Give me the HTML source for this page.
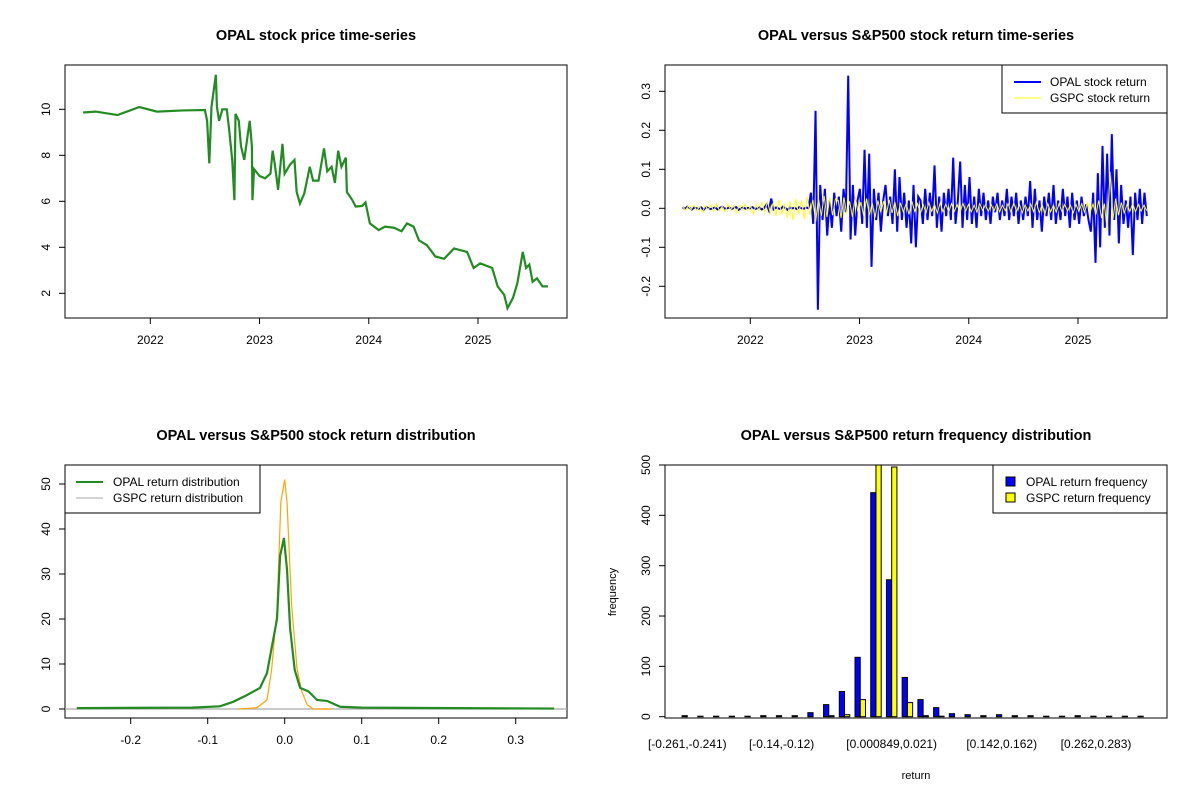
<!DOCTYPE html>
<html><head><meta charset="utf-8">
<style>
html,body{margin:0;padding:0;background:#fff;}
svg{display:block;font-family:"Liberation Sans",Arial,sans-serif;}
</style></head>
<body>
<svg id="c" width="1200" height="800" viewBox="0 0 1200 800"></svg>
<script>
// ---------- DATA ----------
const priceDates = [2021.385,2021.5,2021.7,2021.9,2022.06,2022.3,2022.5,2022.52,2022.54,2022.56,2022.6,2022.61,2022.63,2022.66,2022.7,2022.72,2022.75,2022.77,2022.78,2022.81,2022.83,2022.86,2022.91,2022.93,2022.935,2022.95,2023.0,2023.05,2023.1,2023.12,2023.14,2023.17,2023.21,2023.23,2023.28,2023.32,2023.34,2023.37,2023.41,2023.46,2023.49,2023.54,2023.59,2023.62,2023.66,2023.69,2023.72,2023.75,2023.79,2023.8,2023.85,2023.88,2023.94,2023.97,2024.01,2024.09,2024.15,2024.23,2024.3,2024.35,2024.41,2024.46,2024.53,2024.61,2024.69,2024.78,2024.9,2024.96,2025.02,2025.13,2025.18,2025.24,2025.27,2025.32,2025.36,2025.41,2025.44,2025.47,2025.5,2025.54,2025.59,2025.64];
const priceValues = [9.86,9.9,9.75,10.1,9.9,9.95,9.97,9.5,7.65,10.1,11.5,10.1,9.5,10.0,10.0,9.2,7.8,6.05,9.8,9.5,8.4,7.8,9.5,8.4,6.05,7.4,7.1,7.0,7.2,8.2,7.6,6.5,8.5,7.2,7.6,7.8,6.4,5.9,6.35,7.5,6.9,6.9,8.3,7.3,7.5,6.8,8.2,7.5,7.9,6.4,6.05,5.77,5.8,5.95,5.04,4.75,4.9,4.85,4.7,5.04,4.9,4.3,4.1,3.6,3.5,3.95,3.8,3.1,3.3,3.1,2.3,1.93,1.35,1.8,2.43,3.8,3.1,3.25,2.5,2.65,2.3,2.3];
const priceYTicks = [2,4,6,8,10];
const yearTicks = [2022,2023,2024,2025];

const opalReturns = [0.003,-0.002,0.004,0.001,-0.003,0.002,0.000,-0.001,0.002,-0.004,0.003,0.001,-0.002,0.000,0.002,-0.003,0.001,0.004,-0.001,0.000,0.002,-0.002,0.001,0.003,-0.004,0.000,0.002,-0.001,0.001,0.000,0.003,-0.002,0.000,0.002,-0.003,0.001,0.010,-0.005,0.025,-0.003,0.002,0.000,-0.002,0.004,0.001,-0.004,0.002,0.000,0.001,-0.002,0.003,0.000,-0.001,0.002,0.000,
0.04,-0.04,0.25,-0.26,0.06,-0.03,0.05,-0.07,0.02,-0.05,0.04,-0.02,0.03,-0.06,0.05,-0.01,0.34,-0.08,0.06,-0.07,0.02,0.05,-0.04,0.15,-0.05,0.14,-0.15,0.05,-0.03,0.04,-0.06,0.02,0.06,-0.02,0.03,-0.04,0.10,-0.06,0.08,-0.03,0.04,-0.05,0.02,-0.09,0.06,-0.10,0.03,0.02,-0.04,0.05,-0.03,0.04,-0.02,0.11,-0.05,0.03,-0.06,0.04,-0.02,0.05,-0.03,0.13,-0.04,0.02,0.12,-0.05,0.06,-0.03,0.08,-0.04,0.03,-0.05,0.05,-0.02,0.04,-0.03,0.02,-0.04,0.03,-0.01,0.04,-0.03,0.02,-0.02,0.05,-0.03,0.03,-0.02,0.04,-0.04,0.02,-0.03,0.03,-0.02,0.07,-0.05,0.05,-0.03,0.02,-0.06,0.03,-0.02,0.04,-0.03,0.06,-0.04,0.02,-0.03,0.05,-0.02,0.03,-0.05,0.04,-0.03,0.02,-0.04,0.03,-0.02,0.01,-0.03,-0.06,0.04,-0.14,0.09,-0.10,0.16,-0.05,0.14,-0.07,0.19,-0.03,0.10,-0.09,0.06,-0.04,0.02,-0.05,0.03,-0.12,0.04,-0.03,0.05,-0.04,0.04,-0.02];
const gspcReturns = [0.004,-0.005,0.006,-0.003,0.008,-0.006,0.005,-0.010,0.007,-0.004,0.009,-0.008,0.012,-0.006,0.005,-0.009,0.010,-0.004,0.006,-0.012,0.008,-0.005,0.011,-0.007,0.006,-0.014,0.010,-0.006,0.015,-0.010,0.018,-0.012,0.014,-0.020,0.022,-0.016,0.012,-0.024,0.018,-0.030,0.025,-0.015,0.020,-0.028,0.030,-0.018,0.022,-0.035,0.026,-0.020,0.032,-0.022,0.028,-0.018,0.024,
0.020,-0.025,0.028,-0.015,0.018,-0.022,0.030,-0.012,0.016,-0.020,0.025,-0.018,0.014,-0.024,0.020,-0.010,0.018,-0.015,0.022,-0.012,0.016,-0.020,0.014,-0.010,0.012,-0.016,0.018,-0.008,0.012,-0.014,0.010,-0.012,0.015,-0.008,0.010,-0.012,0.014,-0.009,0.011,-0.010,0.012,-0.008,0.009,-0.011,0.013,-0.007,0.010,-0.009,0.008,-0.010,0.012,-0.006,0.009,-0.008,0.010,-0.007,0.011,-0.009,0.008,-0.006,0.012,-0.010,0.014,-0.008,0.010,-0.012,0.009,-0.007,0.011,-0.009,0.016,-0.012,0.010,-0.015,0.012,-0.009,0.008,-0.010,0.012,-0.008,0.010,-0.007,0.009,-0.012,0.010,-0.008,0.012,-0.010,0.014,-0.009,0.011,-0.016,0.020,-0.025,0.012,-0.058,0.094,-0.030,0.025,-0.018,0.015,-0.012,0.010,-0.008,0.012,-0.009,0.010,-0.007,0.008,-0.006];
const returnYTicks = [-0.2,-0.1,0.0,0.1,0.2,0.3];

const densX = [-0.27,-0.12,-0.084,-0.067,-0.05,-0.032,-0.023,-0.01,-0.006,-0.001,0.003,0.007,0.013,0.02,0.031,0.042,0.055,0.072,0.1,0.35];
const opalDens = [0.2,0.3,0.6,1.6,3,4.7,8,20,34,38,31,18,8.7,4.7,3.9,2,1.8,0.5,0.3,0.1];
const gspcDensX = [-0.06,-0.036,-0.023,-0.017,-0.01,-0.005,0.0,0.003,0.009,0.016,0.022,0.029,0.037,0.06];
const gspcDens = [0,0.3,2,8.7,22,46,51,46,23,9,4,1,0,0];
const densXTicks = [-0.2,-0.1,0.0,0.1,0.2,0.3];
const densYTicks = [0,10,20,30,40,50];

const opalFreq = [2,1,1,1,1,2,2,2,8,24,50,118,445,272,78,34,18,6,4,2,4,2,2,1,1,2,1,1,1,1];
const gspcFreq = [0,0,0,0,0,0,0,0,0,2,4,34,560,496,28,2,1,0,0,0,0,0,0,0,0,0,0,0,0,0];
const binLabels = {0:"[-0.261,-0.241)",6:"[-0.14,-0.12)",13:"[0.000849,0.021)",20:"[0.142,0.162)",26:"[0.262,0.283)"};
const freqYTicks = [0,100,200,300,400,500];

// ---------- HELPERS ----------
const svg = document.getElementById('c');
const NS = 'http://www.w3.org/2000/svg';
function el(tag, attrs, parent){ const e=document.createElementNS(NS,tag); for(const k in attrs) e.setAttribute(k,attrs[k]); (parent||svg).appendChild(e); return e; }
function txt(x,y,s,opt){ const t=el('text',Object.assign({x:x,y:y,'font-size':12,fill:'#000','text-anchor':'middle'},opt||{})); t.textContent=s; return t; }
function lin(d0,d1,r0,r1){ return v=>r0+(v-d0)*(r1-r0)/(d1-d0); }
function box(x0,y0,x1,y1,name){ const r=el('rect',{x:x0,y:y0,width:x1-x0,height:y1-y0,fill:'none',stroke:'#000','stroke-width':1});
 
  }
function xAxis(ticks,sx,y0,fmt,name){ const g=el('g',{});
 
 
 ticks.forEach(v=>{ const x=sx(v); el('line',{x1:x,x2:x,y1:y0,y2:y0+6,stroke:'#000'},g);
  const t=el('text',{x:x,y:y0+26,'font-size':12,'text-anchor':'middle'},g); t.textContent=fmt(v); }); }
function ytxt(g,x,y,s){ const t=el('text',{x:x,y:y,'font-size':12,'text-anchor':'middle',transform:`rotate(-90 ${x} ${y})`},g); t.textContent=s; return t; }
function yAx(ticks,sy,x0,fmt,name){ const g=el('g',{});
 
 
 ticks.forEach(v=>{ const y=sy(v); el('line',{x1:x0-6,x2:x0,y1:y,y2:y,stroke:'#000'},g); ytxt(g,x0-15,y,fmt(v)); }); }
function title(x,y,s,name){ const t=txt(x,y,s,{'font-size':14.5,'font-weight':'bold'});
 
  }
function poly(xs,ys,sx,sy,stroke,w,name){ const p=el('polyline',{points:xs.map((v,i)=>sx(v)+','+sy(ys[i])).join(' '),fill:'none',stroke:stroke,'stroke-width':w,'stroke-linejoin':'miter'});
 
  return p; }
const tf = v=> (Math.abs(v)<1e-9? "0.0" : v.toFixed(1));

// ---------- PANEL 1 ----------
{ const sx=lin(2022,2025,150.3,478), sy=lin(10,2,109.3,293.3);
 title(316,40,"OPAL stock price time-series","price-title");
 box(65,65,567,318,"price-plot-frame");
 yAx(priceYTicks,sy,65,v=>String(v),"price-y-axis");
 xAxis(yearTicks,sx,318,v=>String(v),"price-x-axis");
 poly(priceDates,priceValues,sx,sy,'#228B22',2.2,"price-line");
}
// ---------- PANEL 2 ----------
{ const sx=lin(2022,2025,750.3,1078), sy=lin(0,0.1,208.3,169.3);
 title(916,40,"OPAL versus S&P500 stock return time-series","returns-title");
 box(665,65,1167,318,"returns-plot-frame");
 yAx(returnYTicks,sy,665,tf,"returns-y-axis");
 xAxis(yearTicks,sx,318,v=>String(v),"returns-x-axis");
 const t0=2021.38,t1=2025.63;
 const ox=opalReturns.map((v,i)=>t0+(t1-t0)*i/(opalReturns.length-1));
 poly(ox,opalReturns,sx,sy,'#0000FF',2,"opal-return-line");
 const gx=gspcReturns.map((v,i)=>t0+(t1-t0)*i/(gspcReturns.length-1));
 poly(gx,gspcReturns,sx,sy,'#FFFF00',1,"gspc-return-line");
 const lg=el('g',{});
 
 
 el('rect',{x:1002,y:65,width:165,height:48,fill:'#fff',stroke:'#000'},lg);
 el('line',{x1:1014,x2:1041,y1:82,y2:82,stroke:'#0000FF','stroke-width':2},lg);
 el('line',{x1:1014,x2:1041,y1:98,y2:98,stroke:'#FFFF00','stroke-width':1},lg);
 txt(1050,86,"OPAL stock return",{'text-anchor':'start'});
 txt(1050,102,"GSPC stock return",{'text-anchor':'start'});
}
// ---------- PANEL 3 ----------
{ const sx=lin(0,0.1,284.7,361.7), sy=lin(0,10,709,664);
 title(316,440,"OPAL versus S&P500 stock return distribution","density-title");
 box(65,465,567,718,"density-plot-frame");
 yAx(densYTicks,sy,65,v=>String(v),"density-y-axis");
 xAxis(densXTicks,sx,718,tf,"density-x-axis");
 const bl=el('line',{x1:65,x2:567,y1:sy(0),y2:sy(0),stroke:'#aaa','stroke-width':1.2});
 
 
 poly(gspcDensX,gspcDens,sx,sy,'#FFA500',1.2,"gspc-density-line");
 poly(densX,opalDens,sx,sy,'#228B22',2.2,"opal-density-line");
 const lg=el('g',{});
 
 
 el('rect',{x:65,y:465,width:195,height:48,fill:'#fff',stroke:'#000'},lg);
 el('line',{x1:76,x2:103,y1:482,y2:482,stroke:'#228B22','stroke-width':2},lg);
 el('line',{x1:76,x2:103,y1:498,y2:498,stroke:'#aaa','stroke-width':1},lg);
 txt(113,486,"OPAL return distribution",{'text-anchor':'start'});
 txt(113,502,"GSPC return distribution",{'text-anchor':'start'});
}
// ---------- PANEL 4 ----------
{ const sy=lin(0,500,716.7,465), ux=u=>855+(u-34)*5.24;
 title(916,440,"OPAL versus S&P500 return frequency distribution","frequency-title");
 yAx(freqYTicks,sy,665,v=>String(v),"frequency-y-axis");
 const cp=el('clipPath',{id:'cp4'}); el('rect',{x:665,y:465,width:502,height:253},cp);
 const bars=el('g',{'clip-path':'url(#cp4)'});
 
 
 opalFreq.forEach((v,i)=>{ const x=ux(3*i+1), y=sy(v);
  const r=el('rect',{x:x,y:y,width:5.24,height:sy(0)-y,fill:'#0000FF',stroke:'#000','stroke-width':1},bars);
  
   });
 gspcFreq.forEach((v,i)=>{ const x=ux(3*i+2), y=sy(v);
  const r=el('rect',{x:x,y:y,width:5.24,height:sy(0)-y,fill:'#FFFF00',stroke:'#000','stroke-width':1},bars);
  
   });
 box(665,465,1167,718,"frequency-plot-frame");
 const lg=el('g',{});
 
 
 for(const k in binLabels){ const x=ux(3*(+k)+2); const t=el('text',{x:x,y:748,'font-size':12,'text-anchor':'middle'},lg); t.textContent=binLabels[k]; }
 const xl=txt(916,779,"return");  xl.setAttribute('font-size','11');
 const yl=el('text',{x:616,y:592,'font-size':11,'text-anchor':'middle',transform:'rotate(-90 616 592)'}); yl.textContent="frequency";
 
 
 const leg=el('g',{});
 
 
 el('rect',{x:993,y:465,width:174,height:48,fill:'#fff',stroke:'#000'},leg);
 el('rect',{x:1006,y:477,width:9,height:9,fill:'#0000FF',stroke:'#000'},leg);
 el('rect',{x:1006,y:493,width:9,height:9,fill:'#FFFF00',stroke:'#000'},leg);
 txt(1026,486,"OPAL return frequency",{'text-anchor':'start'});
 txt(1026,502,"GSPC return frequency",{'text-anchor':'start'});
}
</script>
</body></html>
